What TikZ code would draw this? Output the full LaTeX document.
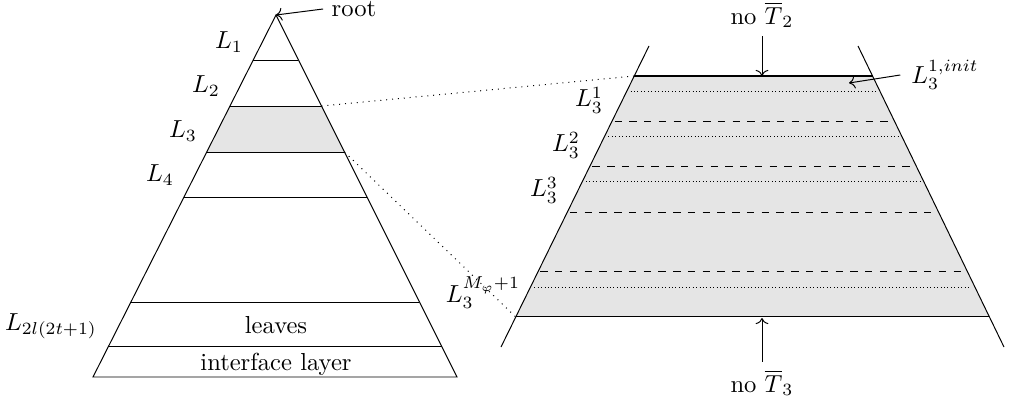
\documentclass[tikz,border=0pt]{standalone}
\usepackage{amsmath}
\usepackage{amssymb}
\usetikzlibrary{arrows.meta, calc, positioning}
\colorlet{layerfill}{gray!20}

\begin{document}
\begin{tikzpicture}[>=To, x=0.4065pt, y=-0.4065pt]

    \useasboundingbox (0,0) rectangle (1012,398);

    % Whole tree
    \coordinate (apex) at (276,15);
    \coordinate (bl) at (93,377);
    \coordinate (br) at (457,377);

    % Layer L_3 shaded
    \fill[layerfill]
      ($(apex)!0.2514!(bl)$) -- ($(apex)!0.2514!(br)$)
      -- ($(apex)!0.3785!(br)$) -- ($(apex)!0.3785!(bl)$) -- cycle;

    \draw (apex) -- (bl) -- (br) -- cycle;

    % Layer boundaries
    \foreach \t in {0.1243, 0.2514, 0.3785, 0.5028, 0.7928, 0.9171} {
      \draw ($(apex)!\t!(bl)$) -- ($(apex)!\t!(br)$);
    }

    % Labels of the tree
    \node (root) at (354,9) {root};
    \draw[->] (root.west) -- (apex);

    \node (l1) at (229,42) {$L_1$};
    \node (l2) at (206,86) {$L_2$};
    \node (l3) at (183,131) {$L_3$};
    \node (l4) at (160,175) {$L_4$};
    \node (lleaf) at (51,326) {$L_{2l(2t+1)}$};

    \node (leaves) at (276,325) {leaves};
    \node (iface) at (276,364) {interface layer};

    % Zoomed layer L_3
    \coordinate (tl) at (649,46);
    \coordinate (bl2) at (501,347);
    \coordinate (tr) at (858,46);
    \coordinate (br2) at (1004,347);

    \coordinate (top-l) at ($(tl)!0.0997!(bl2)$);
    \coordinate (top-r) at ($(tr)!0.0997!(br2)$);
    \coordinate (bot-l) at ($(tl)!0.9003!(bl2)$);
    \coordinate (bot-r) at ($(tr)!0.9003!(br2)$);

    \fill[layerfill] (top-l) -- (top-r) -- (bot-r) -- (bot-l) -- cycle;

    \draw (tl) -- (bl2);
    \draw (tr) -- (br2);
    \draw[semithick] (top-l) -- (top-r);
    \draw (bot-l) -- (bot-r);

    % Sub-layers
    \foreach \t in {0.1495, 0.299, 0.4518, 0.8007} {
      \draw[densely dotted, shorten <=1.5pt, shorten >=1.5pt]
        ($(tl)!\t!(bl2)$) -- ($(tr)!\t!(br2)$);
    }
    \foreach \t in {0.2492, 0.3987, 0.5515, 0.7508} {
      \draw[dashed, shorten <=1pt, shorten >=1pt]
        ($(tl)!\t!(bl2)$) -- ($(tr)!\t!(br2)$);
    }

    % Zoom lines
    \draw[dotted] ($(apex)!0.2514!(br)$) -- (top-l);
    \draw[dotted] ($(apex)!0.3785!(br)$) -- (bot-l);

    % Labels of the sub-layers
    \node (s1) at (589,100) {$L_3^1$};
    \node (s2) at (566,145) {$L_3^2$};
    \node (s3) at (544,190) {$L_3^3$};
    \node (sm) at (483,293) {$L_3^{M_\varphi+1}$};

    \node (init) at (945,75) {$L_3^{1,init}$};
    \coordinate (initpt) at (849,83);
    \draw[->] ([xshift=-1pt]init.west) -- (initpt);

    % No crossing trees
    \node (not2) at (762,15) {no $\overline{T}_2$};
    \coordinate (t2end) at (762,76);
    \draw[->] (not2.south) -- (t2end);

    \node (not3) at (762,383) {no $\overline{T}_3$};
    \coordinate (t3end) at (762,318);
    \draw[->] (not3.north) -- (t3end);

  \end{tikzpicture}
\end{document}
